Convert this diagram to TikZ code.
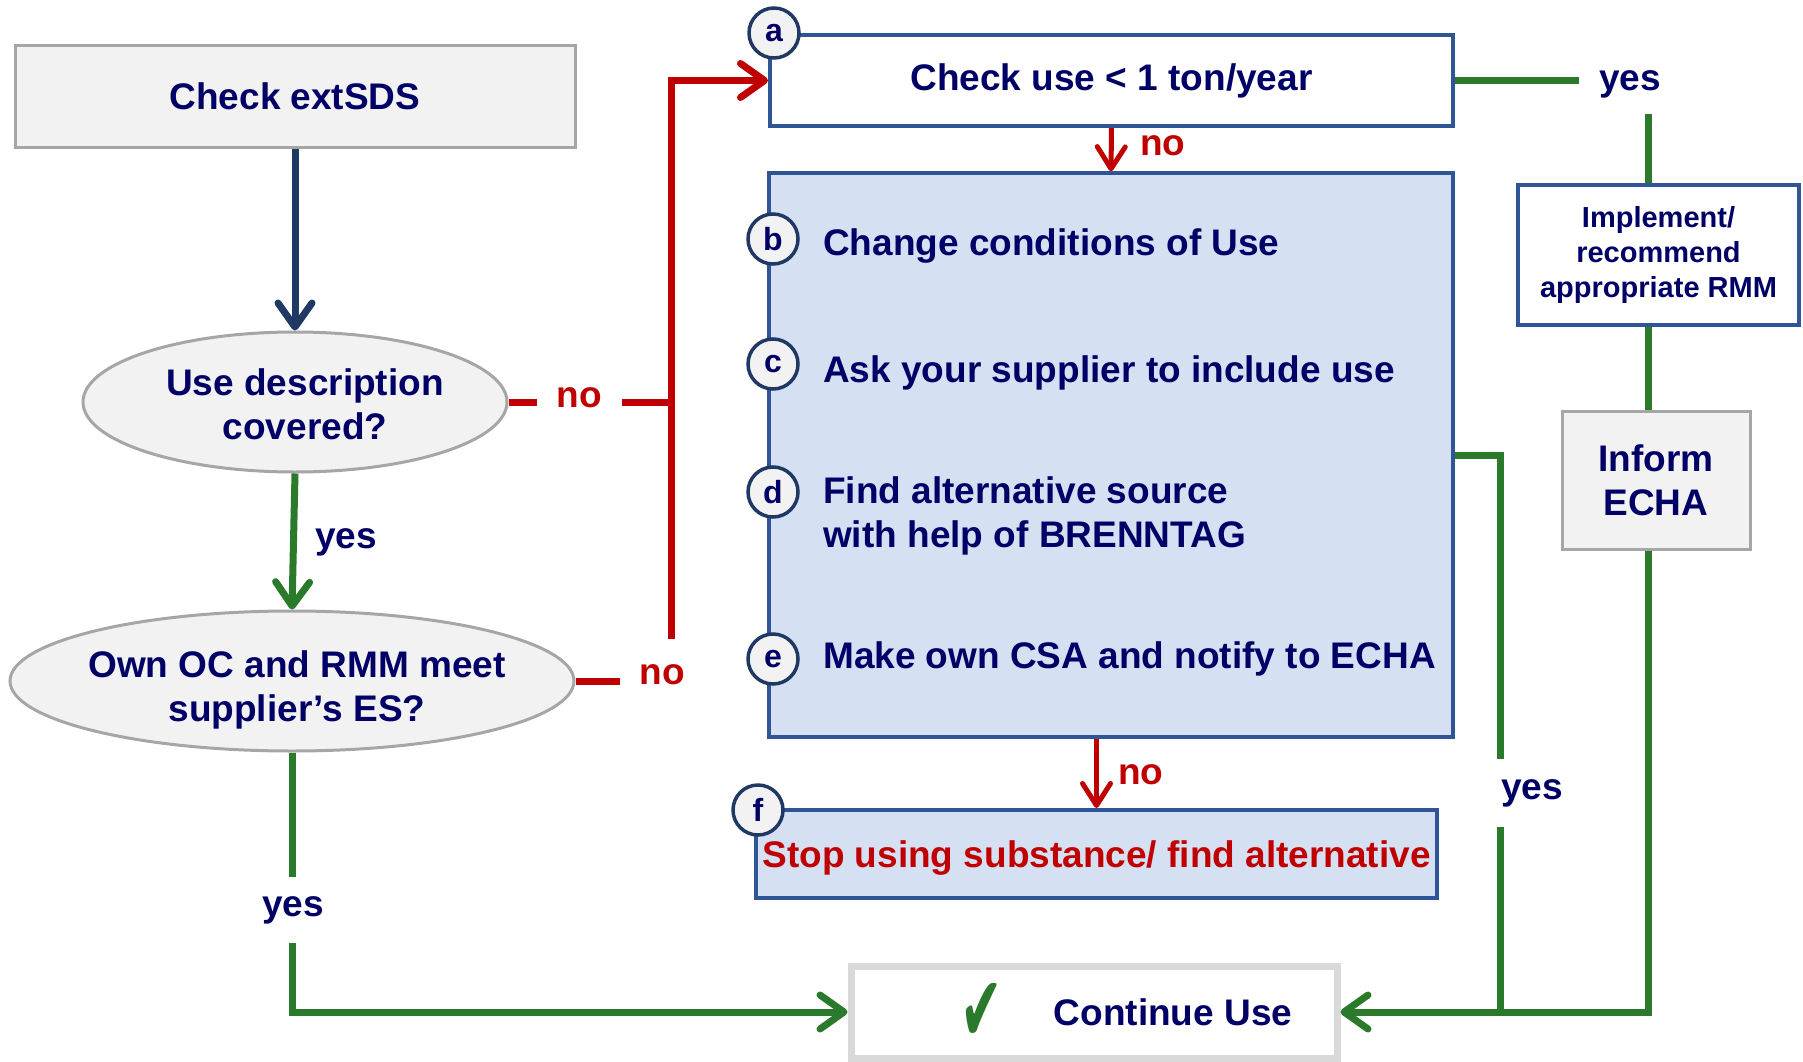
\documentclass[tikz,border=0pt]{standalone}
\usepackage{fontspec}
\setmainfont{Liberation Sans}
\newfontfamily\symfont{DejaVu Sans}
\usetikzlibrary{arrows.meta,shapes.geometric}
\definecolor{navy}{HTML}{000066}
\definecolor{navyline}{HTML}{1F3864}
\definecolor{redc}{HTML}{C00000}
\definecolor{grn}{HTML}{2B7A2B}
\definecolor{blueb}{HTML}{2F5597}
\definecolor{bluef}{HTML}{D6E0F3}
\definecolor{grayb}{HTML}{A6A6A6}
\definecolor{grayf}{HTML}{F2F2F2}
\definecolor{contb}{HTML}{D9D9D9}
\begin{document}
\begin{tikzpicture}[x=1pt,y=-1pt,
  txt/.style={font=\fontsize{37}{44}\selectfont\bfseries, text=navy},
  graybox/.style={draw=grayb, fill=grayf, line width=3pt, txt, align=center},
  ell/.style={ellipse, draw=grayb, fill=grayf, line width=3pt, inner sep=0pt},
  lab/.style={circle, draw=navyline, fill=grayf, line width=3.5pt, minimum size=50pt, inner sep=0pt, font=\fontsize{32}{32}\selectfont\bfseries, text=navy},
  item/.style={txt, inner sep=0pt, align=left},
  nolab/.style={fill=white, font=\fontsize{37}{44}\selectfont\bfseries, text=redc, inner sep=0pt},
  yeslab/.style={fill=white, font=\fontsize{37}{44}\selectfont\bfseries, text=navy, inner sep=0pt},
  gline/.style={draw=grn, line width=7pt},
  garr/.style={gline, -{Straight Barb[length=24pt,width=34pt,round]}},
  rline/.style={draw=redc, line width=7pt},
  rarr/.style={rline, -{Straight Barb[length=24pt,width=34pt,round]}},
  rsmall/.style={draw=redc, line width=5pt, -{Straight Barb[length=22pt,width=28pt,round]}},
  narr/.style={draw=navyline, line width=7pt, -{Straight Barb[length=24pt,width=34pt,round]}}
]
\useasboundingbox (0,0) rectangle (1803,1062);

% left column
\node[graybox, minimum width=560pt, minimum height=101pt] (ext) at (295,96.5) {Check extSDS};
\node[ell, minimum width=424pt, minimum height=140pt] (e1) at (295,402) {};
\node[txt, align=center, inner sep=0pt] (e1t) at (305,404) {Use description\\covered?};
\node[ell, minimum width=564pt, minimum height=140pt] (e2) at (292,681) {};
\node[txt, align=center, inner sep=0pt] (e2t) at (297,690) {Own OC and RMM meet\\supplier’s ES?};

% centre column
\node[draw=blueb, fill=white, line width=4pt, minimum width=683pt, minimum height=91pt, txt] (a) at (1111.5,80.5) {Check use < 1 ton/year};
\node[draw=blueb, fill=bluef, line width=3.5pt, minimum width=684pt, minimum height=564pt] (blue) at (1111,455) {};
\node[draw=blueb, fill=bluef, line width=4pt, minimum width=681pt, minimum height=88pt, inner sep=2pt, text depth=0pt, font=\fontsize{37}{44}\selectfont\bfseries, text=redc] (stop) at (1096.5,854) {Stop using substance/ find alternative};
\node[draw=contb, fill=white, line width=7pt, minimum width=486pt, minimum height=92pt] (cont) at (1094,1012) {};
\node[txt] (conttxt) at (1173,1012) {Continue Use};
\node[text=grn, font=\symfont\fontsize{92}{92}\selectfont, inner sep=0pt] (chk) at (982,1012) {\scalebox{0.55}[1]{✔}};

\node[item, anchor=base west] (tb) at (823,255) {Change conditions of Use};
\node[item, anchor=base west] (tc) at (823,382) {Ask your supplier to include use};
\node[item, anchor=north west] (td) at (823,476) {Find alternative source\\with help of BRENNTAG};
\node[item, anchor=base west] (te) at (823,668) {Make own CSA and notify to ECHA};

\node[lab] (la) at (774,33) {a};
\node[lab] (lb) at (773,239) {b};
\node[lab] (lc) at (773,364) {c};
\node[lab] (ld) at (773,492) {d};
\node[lab] (le) at (773,659) {e};
\node[lab] (lf) at (758,810) {f};

% right column
\node[draw=blueb, fill=white, line width=4pt, minimum width=281pt, minimum height=140pt, align=center, font=\fontsize{29}{35}\selectfont\bfseries, text=navy] (impl) at (1658.5,255) {Implement/\\recommend\\appropriate RMM};
\node[graybox, minimum width=188pt, minimum height=138pt] (inform) at (1656,480) {Inform\\ECHA};

% coordinates for bends
\coordinate (rv) at (671,80.5);
\coordinate (gtr) at (1648,80.5);
\coordinate (gmid) at (1500,455);

% connectors
\draw[narr] (ext.south) -- (e1.north);
\draw[garr] (e1.south) -- (e2.north);
\draw[rline] (e1.east) -- (e1.east -| rv);
\draw[rarr] (e2.east) -- (e2.east -| rv) -- (rv) -- (a.west);
\draw[rsmall] (a.south) -- (blue.north);
\draw[rsmall] (blue.south -| stop.north) -- (stop.north);
\draw[gline] (a.east) -- (gtr) -- (gtr |- impl.north);
\draw[gline] (gtr |- impl.south) -- (gtr |- inform.north);
\draw[garr] (gtr |- inform.south) -- (gtr |- cont.east) -- (cont.east);
\draw[gline] (blue.east) -- (gmid) -- (gmid |- cont.east);
\draw[garr] (e2.south) -- (e2.south |- cont.west) -- (cont.west);

% connector labels
\node[nolab, minimum width=85pt, minimum height=40pt] (no1) at (579,398) {no};
\node[nolab, minimum width=84pt, minimum height=72pt] (no2) at (662,675) {no};
\node[nolab, anchor=west] (no3) at (1140,146) {no};
\node[nolab, anchor=west] (no4) at (1118,775) {no};
\node[yeslab, minimum width=102pt, minimum height=60pt] (yes1) at (1630,84) {yes};
\node[yeslab, minimum width=74pt, minimum height=68pt] (yes2) at (1532,793) {yes};
\node[yeslab, minimum width=70pt, minimum height=66pt] (yes3) at (293,910) {yes};
\node[yeslab, fill=none] (yes4) at (346,542) {yes};
\end{tikzpicture}
\end{document}
